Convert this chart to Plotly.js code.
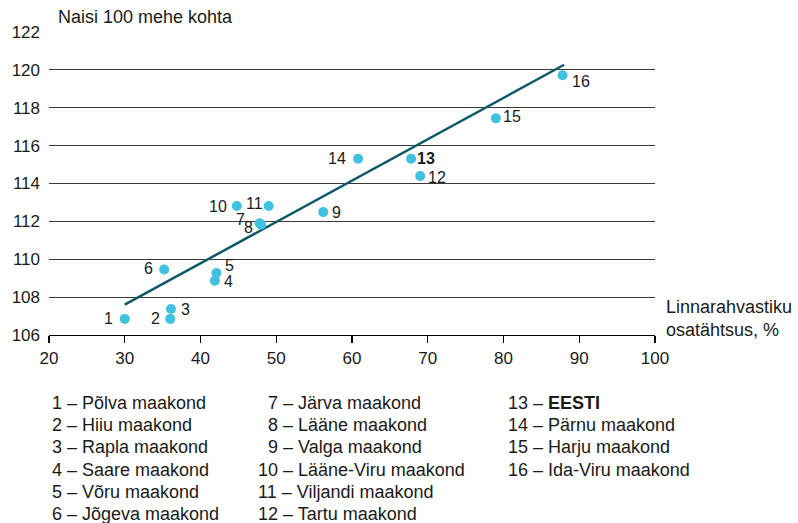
<!DOCTYPE html>
<html>
<head>
<meta charset="utf-8">
<script src="https://cdn.plot.ly/plotly-3.0.1.min.js"></script>
<style>
html,body{margin:0;padding:0;background:#fff;}
#chart{width:798px;height:523px;}
</style>
</head>
<body>
<div id="chart"></div>
<script>
// Data
const ids = ["1","2","3","4","5","6","7","8","9","10","11","12","13","14","15","16"];
const urbanShare = [30.0, 36.0, 36.1, 41.9, 42.1, 35.2, 47.8, 48.0, 56.2, 44.8, 49.0, 69.0, 67.8, 60.8, 79.0, 87.8];
const womenPer100Men = [106.85, 106.85, 107.37, 108.87, 109.27, 109.46, 111.9, 111.82, 112.49, 112.81, 112.81, 114.4, 115.31, 115.31, 117.44, 119.72];
const trendX = [30, 88];
const trendY = [107.6, 120.27];
const countyNames = ["Põlva maakond","Hiiu maakond","Rapla maakond","Saare maakond","Võru maakond","Jõgeva maakond","Järva maakond","Lääne maakond","Valga maakond","Lääne-Viru maakond","Viljandi maakond","Tartu maakond","<b>EESTI</b>","Pärnu maakond","Harju maakond","Ida-Viru maakond"];
const xTicks = [20,30,40,50,60,70,80,90,100];
const yTicks = [106,108,110,112,114,116,118,120,122];

// label placement (style): side and pixel offsets from the point
const labelSide = ["left","left","right","right","right","left","left","left","right","left","left","right","right","left","right","right"];
const labelDx = [-10,-8,8,7,7,-9,-13,-6,7,-8,-4,6,4,-10,5,7];
const labelDy = [0,0,0,1,-8,-1,-4,3,0,0,-3,2,0,0,-2,6];

const FONT = "Liberation Sans, Arial, sans-serif";
const pointColor = "#40c1e0";
const lineColor = "#0d5a66";
const textColor = "#1a1a1a";

const traces = [
  {
    x: trendX, y: trendY, type: "scatter", mode: "lines",
    line: {color: lineColor, width: 2.5}, hoverinfo: "skip", showlegend: false
  },
  {
    x: urbanShare, y: womenPer100Men, type: "scatter", mode: "markers",
    marker: {color: pointColor, size: 10},
    cliponaxis: false, showlegend: false
  }
];

const annotations = [];
// point labels
ids.forEach((id, i) => {
  annotations.push({
    xref: "x", yref: "y", x: urbanShare[i], y: womenPer100Men[i],
    xanchor: labelSide[i] === "left" ? "right" : "left", yanchor: "middle",
    xshift: labelDx[i], yshift: -labelDy[i],
    text: id === "13" ? "<b>13</b>" : id, showarrow: false,
    font: {family: FONT, size: 16, color: textColor}
  });
});

// legend annotations below the chart (pixel offsets relative to plot area)
const plotLeft = 48.7, plotBottom = 335;
const colX = [51.7, 258, 508];
const rowY0 = 403, rowStep = 22.2;
const digitW = 9.5;
countyNames.forEach((name, i) => {
  const col = i < 6 ? 0 : (i < 12 ? 1 : 2);
  const row = i < 6 ? i : (i < 12 ? i - 6 : i - 12);
  const num = String(i + 1);
  let px = colX[col];
  if (col > 0 && num.length === 1) px += digitW;
  const py = rowY0 + row * rowStep;
  annotations.push({
    xref: "paper", yref: "paper", x: 0, y: 0,
    xanchor: "left", yanchor: "middle",
    xshift: px - plotLeft - 2, yshift: -(py - plotBottom),
    text: num + " – " + name, showarrow: false,
    font: {family: FONT, size: 18, color: textColor}
  });
});
// y axis title
annotations.push({
  xref: "paper", yref: "paper", x: 0, y: 1, xanchor: "left", yanchor: "middle",
  xshift: 57.3 - plotLeft - 2, yshift: 32.3 - 17,
  text: "Naisi 100 mehe kohta", showarrow: false,
  font: {family: FONT, size: 18, color: textColor}
});
// x axis title
annotations.push({
  xref: "paper", yref: "paper", x: 1, y: 0, xanchor: "left", yanchor: "middle",
  xshift: 666 - 655.3 - 2, yshift: -(318 - plotBottom),
  text: "Linnarahvastiku<br>osatähtsus, %", align: "left", showarrow: false,
  font: {family: FONT, size: 18, color: textColor}
});

const layout = {
  width: 798, height: 523,
  margin: {l: 48.7, r: 142.7, t: 32.3, b: 188},
  paper_bgcolor: "#fff", plot_bgcolor: "#fff",
  font: {family: FONT, size: 17, color: textColor},
  showlegend: false,
  xaxis: {
    range: [20, 100], tickvals: xTicks, ticktext: xTicks.map(String),
    showgrid: false, zeroline: false,
    showline: true, linecolor: "#000", linewidth: 1.2,
    ticks: "outside", ticklen: 7, tickcolor: "#000", tickwidth: 1.2,
    ticklabelstandoff: 0,
    tickfont: {family: FONT, size: 17, color: textColor}
  },
  yaxis: {
    range: [106, 122], tickvals: yTicks, ticktext: yTicks.map(String),
    showgrid: true, gridcolor: "#3a3a3a", gridwidth: 1.2,
    zeroline: false, showline: false, ticks: "",
    ticklabelstandoff: 8,
    tickfont: {family: FONT, size: 17, color: textColor}
  },
  annotations: annotations
};

Plotly.newPlot("chart", traces, layout, {displayModeBar: false, staticPlot: true});
</script>
</body>
</html>
